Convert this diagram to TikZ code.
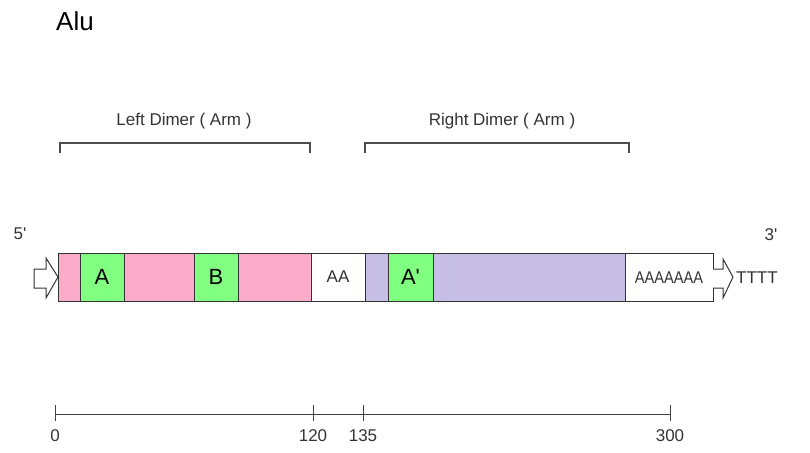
\documentclass[tikz,border=0pt]{standalone}
\usepackage{fontspec}
\setmainfont{Liberation Sans}
\begin{document}
\begin{tikzpicture}[x=1pt,y=-1pt,
  ink/.style={draw=black!80, line width=1pt},
  seg/.style={ink, minimum height=48pt, inner sep=0pt, outer sep=0pt},
  lbl/.style={text=black!80, font=\fontsize{17}{20}\selectfont, inner sep=0pt},
  motif/.style={text=black, font=\fontsize{22}{25}\selectfont},
  dimer/.style={draw=black!70, line width=1.2pt},
  tick/.style={draw=black!75, line width=1pt}]
\useasboundingbox (0,0) rectangle (810,452);
\definecolor{armpink}{RGB}{250,172,200}
\definecolor{boxgreen}{RGB}{128,255,128}
\definecolor{armlav}{RGB}{198,190,228}

% title
\node[anchor=west, font=\fontsize{26}{29}\selectfont, text=black, inner sep=0pt] (title) at (56,21) {Alu};

% dimer brackets
\coordinate (lb1) at (60,153); \coordinate (lb2) at (310,153);
\coordinate (rb1) at (365,153); \coordinate (rb2) at (629,153);
\draw[dimer] (lb1) |- (310,143) -- (lb2);
\draw[dimer] (rb1) |- (629,143) -- (rb2);
\node[lbl] (ldimer) at (184,121) {Left Dimer ( Arm )};
\node[lbl] (rdimer) at (502,121) {Right Dimer ( Arm )};

% strand ends
\node[lbl] (five) at (20,234) {5\textquotesingle};
\node[lbl] (three) at (771,235) {3\textquotesingle};

% the element body
\node[seg, fill=armpink, minimum width=22pt] (s1) at (69,277) {};
\node[seg, fill=boxgreen, minimum width=44pt, motif] (boxA) at (102,277) {A};
\node[seg, fill=armpink, minimum width=70pt] (s2) at (159,277) {};
\node[seg, fill=boxgreen, minimum width=44pt, motif] (boxB) at (216,277) {B};
\node[seg, fill=armpink, minimum width=73pt] (s3) at (274.5,277) {};
\node[seg, fill=white, minimum width=54pt, lbl] (linker) at (338,277) {AA};
\node[seg, fill=armlav, minimum width=23pt] (s4) at (376.5,277) {};
\node[seg, fill=boxgreen, minimum width=45pt, motif] (boxA2) at (410.5,277) {A\textquotesingle};
\node[seg, fill=armlav, minimum width=192pt] (s5) at (529,277) {};
\node[seg, fill=white, minimum width=88pt] (tail) at (669,277) {};
\node[lbl, xscale=0.86] (polyA) at (669,278) {AAAAAAA};

% block arrows at both ends
\draw[ink, fill=white, line join=miter]
  (34,269) -- (46,269) -- (46,258) -- (s1.west) -- (46,298) -- (46,288) -- (34,288) -- cycle;
\draw[ink, fill=white, line join=miter]
  (tail.east |- 0,269) -- (723,269) -- (723,259) -- (733,277) -- (723,298) -- (723,288) -- (tail.east |- 0,288);
\node[lbl, anchor=west] (tttt) at (736,278) {TTTT};

% position scale
\coordinate (p0) at (55,414);
\coordinate (p120) at (313,414);
\coordinate (p135) at (363,414);
\coordinate (p300) at (670,414);
\draw[tick] (p0) -- (p300);
\foreach \p in {p0,p120,p135,p300}
  \draw[tick] ([yshift=-7pt]\p) -- ([yshift=9pt]\p);
\node[lbl] (n0) at (55,436) {0};
\node[lbl] (n120) at (313,436) {120};
\node[lbl] (n135) at (363,436) {135};
\node[lbl] (n300) at (670,436) {300};
\end{tikzpicture}
\end{document}
